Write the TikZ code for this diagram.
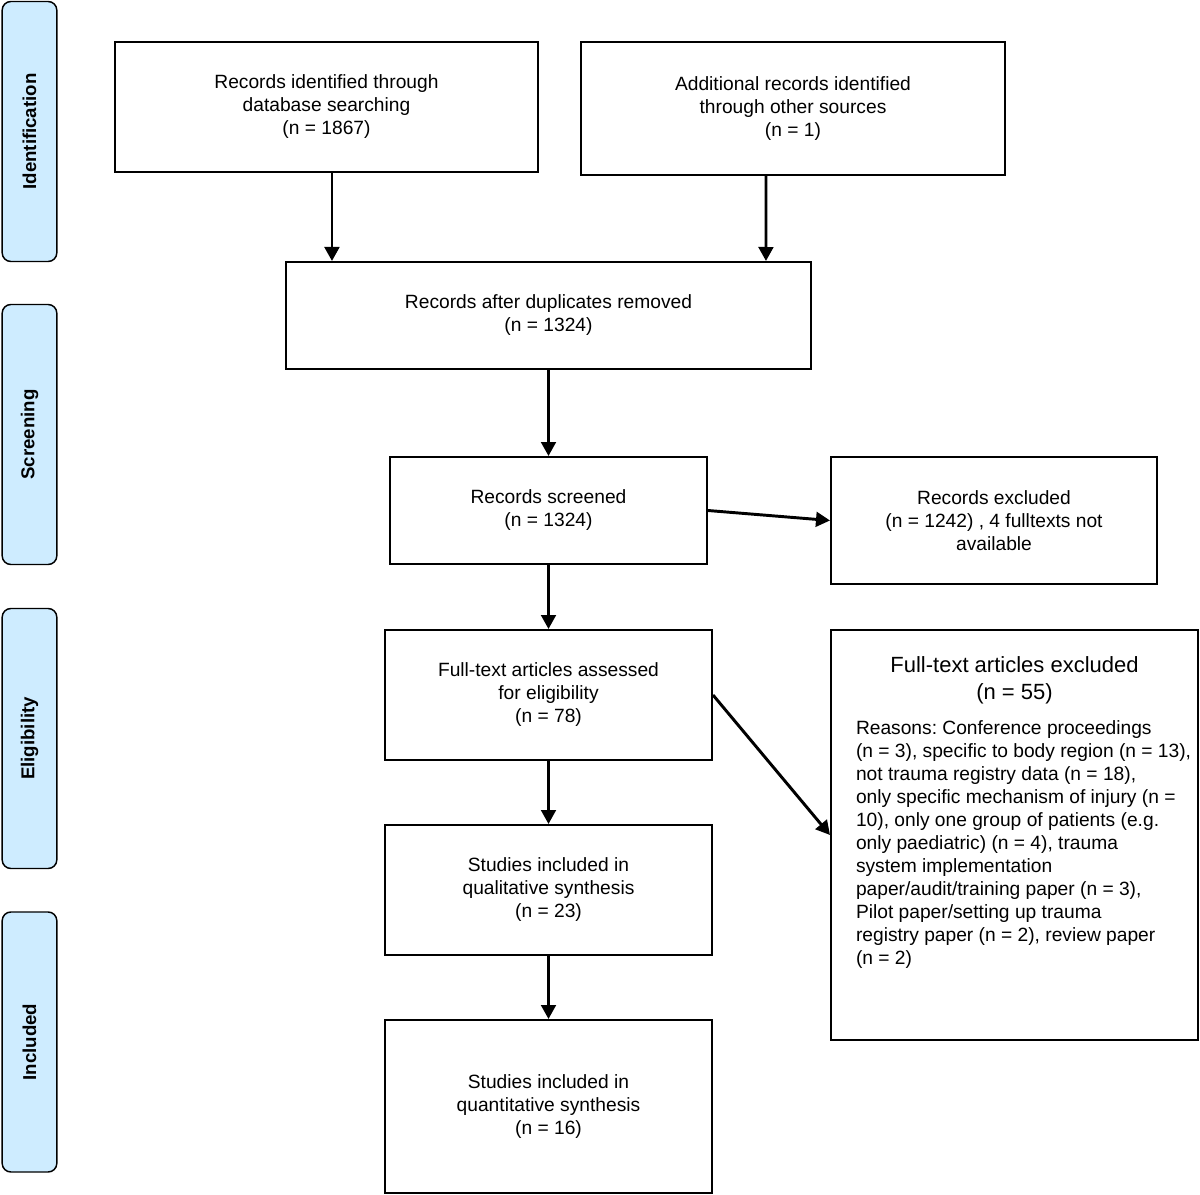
\documentclass[tikz,border=0pt]{standalone}
\usepackage{fontspec}
\setmainfont{Liberation Sans}
\usetikzlibrary{arrows.meta}
\definecolor{sidefill}{RGB}{206,236,255}
\frenchspacing
\begin{document}
\begin{tikzpicture}[x=0.75pt,y=-0.75pt,
  box/.style={draw, line width=1.5pt, align=center, inner sep=0pt,
    font=\fontsize{14.4}{17.25}\selectfont},
  side/.style={draw, line width=1.1pt, fill=sidefill, rounded corners=6.5pt,
    minimum width=195pt, minimum height=41pt, rotate=90, inner sep=0pt,
    font=\fontsize{14}{16}\selectfont\bfseries},
  arr/.style={line width=2.2pt, -{Triangle[length=10.5pt,width=11pt]}}]
\useasboundingbox (0,0) rectangle (1200,1195);

% side bars
\node[side] (sid) at (29.5,131.5) {Identification};
\node[side] (sscr) at (29.5,434.5) {Screening};
\node[side] (selig) at (29.5,738.5) {Eligibility};
\node[side] (sincl) at (29.5,1042) {Included};

% boxes
\node[box, minimum width=423*0.75pt, minimum height=130*0.75pt] (b1) at (326.5,107)
  {Records identified through\\database searching\\(n = 1867)};
\node[box, minimum width=424*0.75pt, minimum height=133*0.75pt] (b2) at (793,108.5)
  {Additional records identified\\through other sources\\(n = 1)};
\node[box, minimum width=525*0.75pt, minimum height=107*0.75pt] (b3) at (548.5,315.5)
  {Records after duplicates removed\\(n = 1324)};
\node[box, minimum width=317*0.75pt, minimum height=107*0.75pt] (b4) at (548.5,510.5)
  {Records screened\\(n = 1324)};
\node[box, minimum width=326*0.75pt, minimum height=127*0.75pt] (b5) at (994,520.5)
  {Records excluded\\(n = 1242) , 4 fulltexts not\\available};
\node[box, minimum width=327*0.75pt, minimum height=130*0.75pt] (b6) at (548.5,695)
  {Full-text articles assessed\\for eligibility\\(n = 78)};
\node[box, minimum width=367*0.75pt, minimum height=410*0.75pt] (b7) at (1014.5,835) {};
\node[box, draw=none, font=\fontsize{16.5}{20.25}\selectfont] (b7t) at (1014.5,680)
  {Full-text articles excluded\\(n = 55)};
\node[box, draw=none, align=left, anchor=north west] (b7r) at (855,720)
  {Reasons: Conference proceedings\\
   (n = 3), specific to body region (n = 13),\\
   not trauma registry data (n = 18),\\
   only specific mechanism of injury (n =\\
   10), only one group of patients (e.g.\\
   only paediatric) (n = 4), trauma\\
   system implementation\\
   paper/audit/training paper (n = 3),\\
   Pilot paper/setting up trauma\\
   registry paper (n = 2), review paper\\
   (n = 2)};
\node[box, minimum width=327*0.75pt, minimum height=130*0.75pt] (b8) at (548.5,890)
  {Studies included in\\qualitative synthesis\\(n = 23)};
\node[box, minimum width=327*0.75pt, minimum height=173*0.75pt] (b9) at (548.5,1106.5)
  {Studies included in\\quantitative synthesis\\(n = 16)};

% connectors
\draw[arr] ([xshift=4.1pt]b1.south) -- ([xshift=-162.4pt]b3.north);
\draw[arr] ([xshift=-20.25pt]b2.south) -- ([xshift=163.1pt]b3.north);
\draw[arr] (b3.south) -- (b4.north);
\draw[arr] (b4.east) -- (b5.west);
\draw[arr] (b4.south) -- (b6.north);
\draw[arr] (b6.east) -- (b7.west);
\draw[arr] (b6.south) -- (b8.north);
\draw[arr] (b8.south) -- (b9.north);
\end{tikzpicture}
\end{document}
